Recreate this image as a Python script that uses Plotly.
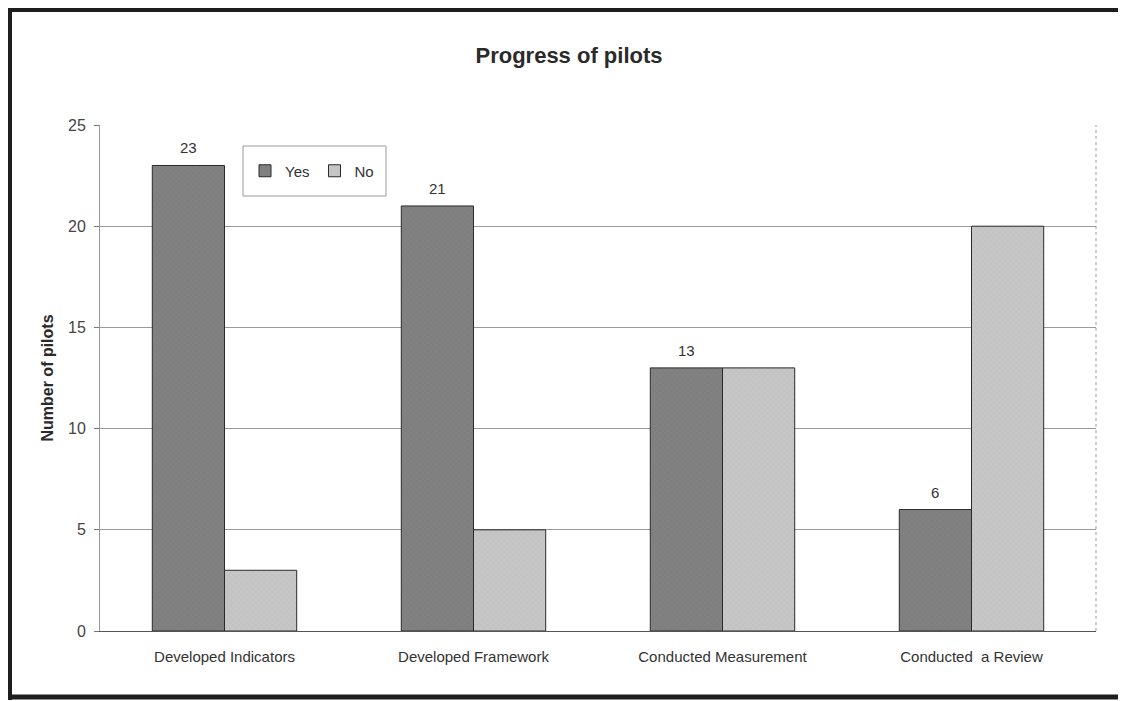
import plotly.graph_objects as go

categories = ["Developed Indicators", "Developed Framework", "Conducted Measurement", "Conducted  a Review"]
yes_values = [23, 21, 13, 6]
no_values = [3, 5, 13, 20]
y_ticks = [0, 5, 10, 15, 20, 25]

# page has an 8px body margin; work in reference pixels and subtract it
OFF = 8
W, H = 1126 - OFF, 701 - OFF
L, R, T, B = 100 - OFF, 1096 - OFF, 125 - OFF, 631 - OFF
BARGAP = 0.42

def px_x(p):
    return (p - OFF - L) / (R - L)

def px_y(p):
    return (B - (p - OFF)) / (B - T)

fig = go.Figure()
fig.add_trace(go.Bar(
    name="Yes", x=categories, y=yes_values,
    marker=dict(color="#808080", line=dict(color="#2a2a2a", width=1),
                pattern=dict(shape="x", size=4, solidity=0.15, fgcolor="#6a6a6a", bgcolor="#818181")),
))
fig.add_trace(go.Bar(
    name="No", x=categories, y=no_values,
    marker=dict(color="#c4c4c4", line=dict(color="#2a2a2a", width=1),
                pattern=dict(shape="x", size=4, solidity=0.15, fgcolor="#b0b0b0", bgcolor="#c6c6c6")),
))

# value labels above the "Yes" bars (shifted half a bar to the left of the category centre)
band_px = (R - L) / len(categories)
bar_px = band_px * (1 - BARGAP) / 2
for cat, v in zip(categories, yes_values):
    fig.add_annotation(x=cat, y=v, text=str(v), showarrow=False,
                       xshift=-bar_px / 2, yshift=7, yanchor="bottom",
                       font=dict(size=15, color="#333333"))

shapes = [
    dict(type="line", xref="paper", yref="paper", x0=px_x(8), x1=px_x(1140), y0=px_y(10), y1=px_y(10),
         line=dict(color="#1e1e1e", width=4)),
    dict(type="line", xref="paper", yref="paper", x0=px_x(8), x1=px_x(1140), y0=px_y(697), y1=px_y(697),
         line=dict(color="#1e1e1e", width=5)),
    dict(type="line", xref="paper", yref="paper", x0=px_x(10), x1=px_x(10), y0=px_y(8), y1=px_y(700),
         line=dict(color="#1e1e1e", width=4)),
    dict(type="line", xref="paper", yref="paper", x0=1, x1=1, y0=0, y1=1,
         line=dict(color="#9a9a9a", width=1, dash="dot")),
    # legend box
    dict(type="rect", xref="paper", yref="paper", x0=px_x(243), x1=px_x(386), y0=px_y(196), y1=px_y(146),
         line=dict(color="#9a9a9a", width=1), fillcolor="white", layer="above"),
]

fig.update_layout(
    width=W, height=H,
    margin=dict(l=L, r=W - R, t=T, b=H - B, pad=0),
    paper_bgcolor="white", plot_bgcolor="white",
    font=dict(family="Liberation Sans, Arial, sans-serif", color="#333333", size=15),
    title=dict(text="<b>Progress of pilots</b>", x=(569 - OFF) / W, xanchor="center",
               y=1 - (55 - OFF) / H, yanchor="middle", font=dict(size=22, color="#2a2a2a")),
    barmode="group", bargap=BARGAP, bargroupgap=0,
    showlegend=True,
    legend=dict(orientation="h", x=px_x(245), y=px_y(171), xanchor="left", yanchor="middle",
                borderwidth=0, bgcolor="rgba(0,0,0,0)",
                font=dict(size=15, color="#333333"), itemwidth=30, traceorder="normal"),
    shapes=shapes,
)
fig.update_yaxes(
    range=[0, 25], tickvals=y_ticks, ticks="outside", ticklen=5, tickcolor="#777777",
    ticklabelstandoff=5,
    showgrid=True, gridcolor="#9a9a9a", gridwidth=1,
    showline=True, linecolor="#9a9a9a", linewidth=1, zeroline=False,
    tickfont=dict(size=16, color="#444444"),
    title=dict(text="<b>Number of pilots</b>", font=dict(size=16, color="#2a2a2a"), standoff=10),
)
fig.update_xaxes(
    showline=True, linecolor="#555555", linewidth=1, ticks="",
    ticklabelstandoff=12,
    tickfont=dict(size=15, color="#333333"),
)
fig.write_html("out.html")
